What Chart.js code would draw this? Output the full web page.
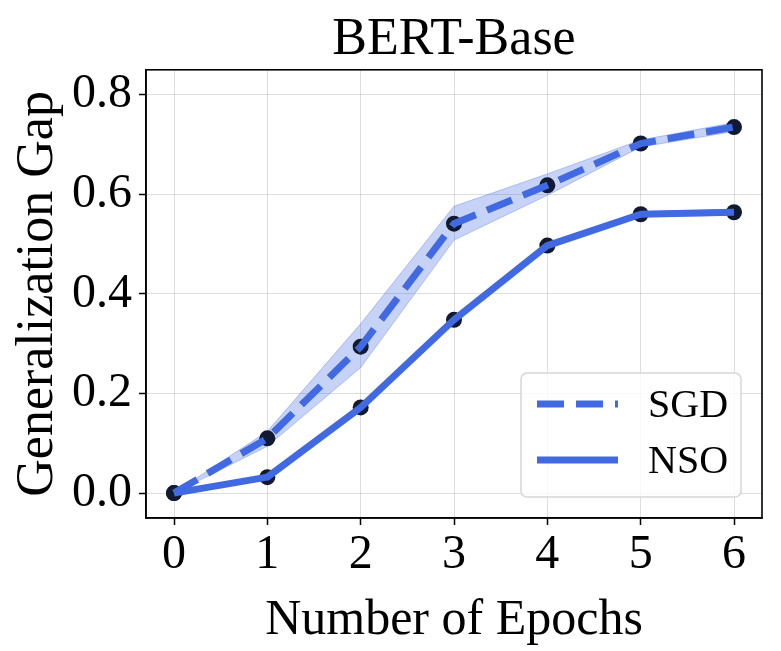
<!DOCTYPE html>
<html><head><meta charset="utf-8">
<script src="https://cdn.jsdelivr.net/npm/chart.js@4"></script>
<style>html,body{margin:0;padding:0;background:#fff}</style>
</head><body>
<canvas id="c" width="781" height="651"></canvas>
<script>
const epochs = [0, 1, 2, 3, 4, 5, 6];
const sgdMean = [0, 0.110, 0.294, 0.541, 0.618, 0.702, 0.735];
const sgdLow  = [0, 0.094, 0.252, 0.508, 0.598, 0.695, 0.726];
const sgdHigh = [0, 0.124, 0.340, 0.576, 0.641, 0.709, 0.744];
const nsoMean = [0, 0.032, 0.172, 0.348, 0.497, 0.560, 0.564];
const nsoLow  = [0, 0.028, 0.165, 0.342, 0.492, 0.555, 0.558];
const nsoHigh = [0, 0.036, 0.179, 0.355, 0.502, 0.565, 0.570];
const seriesNames = ['SGD', 'NSO'];
const xTicks = [0, 1, 2, 3, 4, 5, 6];
const yTicks = [0.0, 0.2, 0.4, 0.6, 0.8];
const titleText = 'BERT-Base';
const xTitle = 'Number of Epochs';
const yTitle = 'Generalization Gap';

const BLUE = 'rgb(65,105,225)';
const BAND = 'rgba(65,105,225,0.30)';
const BAND_EDGE = 'rgba(65,105,225,0.35)';
const MARK = '#111a30';
const FONT = '"Liberation Serif", "DejaVu Serif", serif';
const SGD_DASH = [27, 12];

const pts = arr => epochs.map((e, i) => ({x: e, y: arr[i]}));

function band(low, high) {
  return [
    {data: pts(low), borderColor: BAND_EDGE, borderWidth: 1, pointRadius: 0, fill: false, order: 3},
    {data: pts(high), borderColor: BAND_EDGE, borderWidth: 1, pointRadius: 0, fill: '-1', backgroundColor: BAND, order: 3}
  ];
}

const datasets = [
  ...band(sgdLow, sgdHigh),
  ...band(nsoLow, nsoHigh),
  {label: seriesNames[0] + ' pts', data: pts(sgdMean), showLine: false, pointRadius: 8, pointBackgroundColor: MARK, pointBorderWidth: 0, order: 2},
  {label: seriesNames[1] + ' pts', data: pts(nsoMean), showLine: false, pointRadius: 8, pointBackgroundColor: MARK, pointBorderWidth: 0, order: 2},
  {label: seriesNames[0], data: pts(sgdMean), borderColor: BLUE, borderWidth: 7, borderDash: SGD_DASH, pointRadius: 0, fill: false, order: 1},
  {label: seriesNames[1], data: pts(nsoMean), borderColor: BLUE, borderWidth: 7, borderJoinStyle: 'round', pointRadius: 0, fill: false, order: 0}
];

const framePlugin = {
  id: 'frame',
  afterDatasetsDraw(chart) {
    const ctx = chart.ctx, a = chart.chartArea;
    ctx.save();
    ctx.strokeStyle = '#000';
    ctx.lineWidth = 1.6;
    ctx.strokeRect(a.left, a.top, a.right - a.left, a.bottom - a.top);
    ctx.restore();
  }
};

const legendPlugin = {
  id: 'mplLegend',
  afterDraw(chart) {
    const ctx = chart.ctx, a = chart.chartArea;
    const w = 220, h = 124;
    const right = a.right - 21, bottom = a.bottom - 21;
    const left = right - w, top = bottom - h;
    ctx.save();
    ctx.beginPath();
    ctx.roundRect(left, top, w, h, 6);
    ctx.fillStyle = 'rgba(255,255,255,0.8)';
    ctx.fill();
    ctx.strokeStyle = '#d6d6d6';
    ctx.lineWidth = 1.5;
    ctx.stroke();
    const rows = [top + 31, top + 87];
    const dashes = [SGD_DASH, []];
    ctx.font = '40px ' + FONT;
    ctx.textBaseline = 'middle';
    ctx.fillStyle = '#000';
    seriesNames.forEach((name, i) => {
      ctx.beginPath();
      ctx.setLineDash(dashes[i]);
      ctx.strokeStyle = BLUE;
      ctx.lineWidth = 7;
      ctx.moveTo(left + 16, rows[i]);
      ctx.lineTo(left + 97, rows[i]);
      ctx.stroke();
      ctx.setLineDash([]);
      ctx.fillText(name, left + 127, rows[i] + 2);
    });
    ctx.restore();
  }
};

new Chart(document.getElementById('c'), {
  type: 'line',
  data: {datasets},
  plugins: [framePlugin, legendPlugin],
  options: {
    responsive: false,
    animation: false,
    layout: {padding: {left: 0, right: 19, top: 0, bottom: 0}},
    plugins: {
      legend: {display: false},
      tooltip: {enabled: false},
      title: {
        display: true, text: titleText, color: '#000', fullSize: false,
        font: {family: FONT, size: 52, weight: 'normal', lineHeight: 1.15},
        padding: {top: 10, bottom: 0}
      }
    },
    scales: {
      x: {
        type: 'linear', min: -0.3, max: 6.3,
        afterBuildTicks: s => { s.ticks = xTicks.map(v => ({value: v})); },
        afterFit: s => { s.height = 133; },
        ticks: {color: '#000', font: {family: FONT, size: 48}, padding: 2, maxRotation: 0, autoSkip: false, callback: v => String(v)},
        grid: {color: 'rgba(0,0,0,0.13)', lineWidth: 1, tickColor: '#000', tickLength: 7, tickWidth: 1.5},
        border: {color: '#000', width: 1.6},
        title: {display: true, text: xTitle, color: '#000', font: {family: FONT, size: 50, lineHeight: 1.2}, padding: {top: 17, bottom: 0}}
      },
      y: {
        type: 'linear', min: -0.05, max: 0.85,
        afterBuildTicks: s => { s.ticks = yTicks.map(v => ({value: v})); },
        afterFit: s => { s.width = 146; },
        ticks: {color: '#000', font: {family: FONT, size: 48}, padding: 7, callback: v => v.toFixed(1)},
        grid: {color: 'rgba(0,0,0,0.13)', lineWidth: 1, tickColor: '#000', tickLength: 7, tickWidth: 1.5},
        border: {color: '#000', width: 1.6},
        title: {display: true, text: yTitle, color: '#000', font: {family: FONT, size: 52, lineHeight: 1.2}, padding: {top: 7, bottom: 0}}
      }
    }
  }
});
</script>
</body></html>
